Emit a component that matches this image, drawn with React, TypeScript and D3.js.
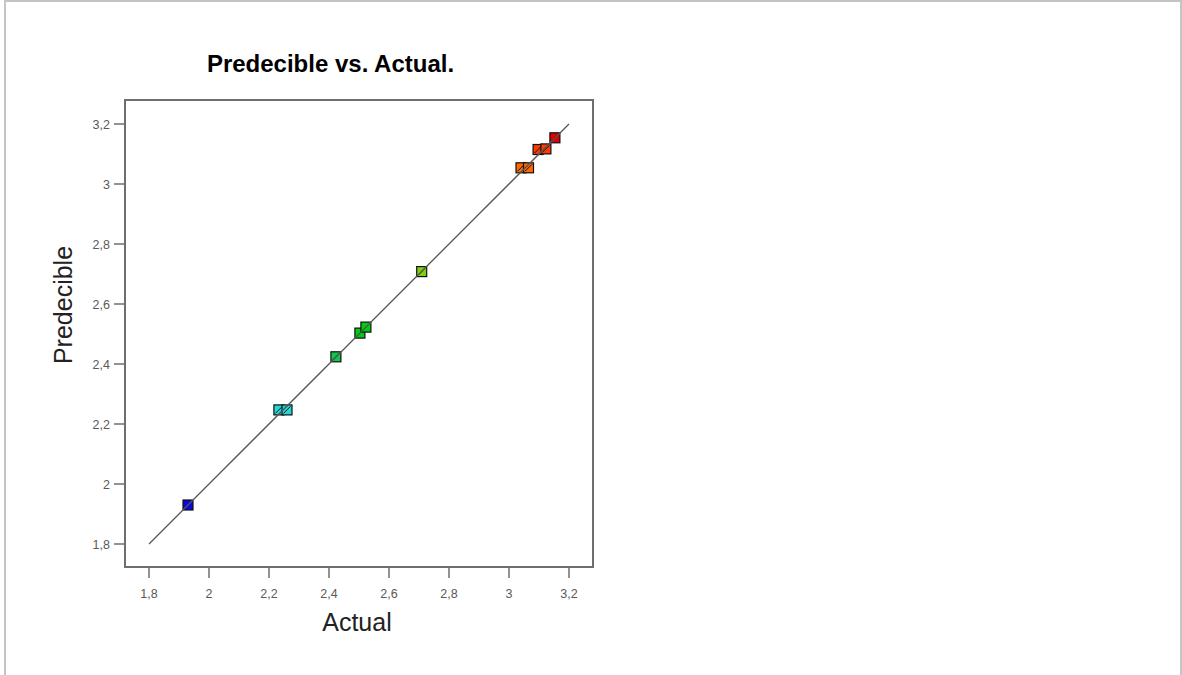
import React from "react";
import * as d3 from "d3";

const actual = [1.93, 2.233, 2.26, 2.423, 2.503, 2.523, 2.709, 3.04, 3.065, 3.097, 3.123, 3.153];
const predicted = [1.93, 2.247, 2.247, 2.424, 2.503, 2.523, 2.708, 3.054, 3.054, 3.115, 3.117, 3.154];
const pointColors = [
  "#0a0ad8", "#20d8d8", "#20d8d8", "#10c850", "#00cc10", "#00cc10",
  "#80d010", "#ff6a00", "#ff6a00", "#ff3a00", "#ff3a00", "#e00000",
];
const tickValues = [1.8, 2, 2.2, 2.4, 2.6, 2.8, 3, 3.2];
const fitLine = [1.8, 3.2];

const W = 1182;
const H = 675;
const frame = { left: 125, top: 100, right: 593, bottom: 567 };

const fmt = (v: number) => String(+v.toFixed(1)).replace(".", ",");

export default function App() {
  const x = d3.scaleLinear().domain([1.8, 3.2]).range([149, 569]);
  const y = d3.scaleLinear().domain([1.8, 3.2]).range([544, 124]);
  const line = d3
    .line<number>()
    .x((d) => x(d))
    .y((d) => y(d));
  const s = 10;

  return (
    <svg
      width={W}
      height={H}
      style={{ position: "absolute", left: 0, top: 0, background: "#fff" }}
      fontFamily="Arial, 'Liberation Sans', sans-serif"
    >
      <rect x={5} y={1} width={1176} height={720} fill="none" stroke="#c4c4c4" strokeWidth={2} />

      <text x={330.5} y={72} textAnchor="middle" fontSize={24} fontWeight="bold" fill="#000">
        Predecible vs. Actual.
      </text>

      {/* frame */}
      <rect
        x={frame.left}
        y={frame.top}
        width={frame.right - frame.left}
        height={frame.bottom - frame.top}
        fill="none"
        stroke="#6e6e6e"
        strokeWidth={2}
      />

      {/* x ticks */}
      {tickValues.map((t) => (
        <g key={"x" + t}>
          <line x1={x(t)} x2={x(t)} y1={frame.bottom + 1} y2={frame.bottom + 11} stroke="#6e6e6e" strokeWidth={1.5} />
          <text x={x(t)} y={598} textAnchor="middle" fontSize={12.5} fill="#595959">
            {fmt(t)}
          </text>
        </g>
      ))}

      {/* y ticks */}
      {tickValues.map((t) => (
        <g key={"y" + t}>
          <line x1={frame.left - 11} x2={frame.left - 1} y1={y(t)} y2={y(t)} stroke="#6e6e6e" strokeWidth={1.5} />
          <text x={110} y={y(t) + 4.5} textAnchor="end" fontSize={12.5} fill="#595959">
            {fmt(t)}
          </text>
        </g>
      ))}

      {/* points */}
      {actual.map((a, i) => (
        <g key={"p" + i}>
          <rect
            x={x(a) - s / 2}
            y={y(predicted[i]) - s / 2}
            width={s}
            height={s}
            fill={pointColors[i]}
            stroke="#111"
            strokeWidth={1.2}
          />
          <line
            x1={x(a) - s / 2 + 1.5}
            y1={y(predicted[i]) + s / 2 - 1.5}
            x2={x(a) + s / 2 - 1.5}
            y2={y(predicted[i]) - s / 2 + 1.5}
            stroke="#111"
            strokeWidth={1}
          />
        </g>
      ))}

      {/* fit line */}
      <path d={line(fitLine) || ""} fill="none" stroke="#555" strokeWidth={1.3} />

      <text x={357} y={631} textAnchor="middle" fontSize={25} fill="#222">
        Actual
      </text>
      <text
        transform={`translate(72,305) rotate(-90)`}
        textAnchor="middle"
        fontSize={25}
        fill="#222"
      >
        Predecible
      </text>
    </svg>
  );
}
